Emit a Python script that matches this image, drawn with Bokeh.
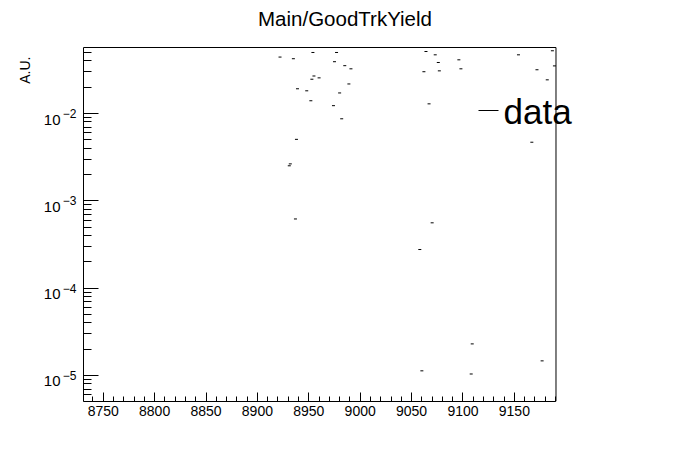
import math
from bokeh.plotting import figure
from bokeh.models import (Range1d, Label, Arrow, SingleIntervalTicker, LogTicker,
                          CustomJSTickFormatter, LogAxis, LogScale, BoxAnnotation, Title)
from bokeh.embed import file_html
from bokeh.resources import INLINE

# data: run number vs yield (A.U.)
runs = [8922, 8935, 8954, 8977, 8975, 8985, 8991, 8955, 8953, 8960,
        8989, 8939, 8948, 8980, 8952, 8974, 8982, 8938, 8932, 8931,
        8937, 9064, 9073, 9076, 9096, 9062, 9077, 9098, 9067, 9154,
        9187, 9189, 9172, 9182, 9167, 9070, 9058, 9109, 9060, 9108,
        9177]
yields = [0.0443, 0.0424, 0.050, 0.050, 0.0392, 0.0353, 0.0325, 0.0269, 0.0247, 0.0256,
          0.0218, 0.0192, 0.0182, 0.0172, 0.0140, 0.0123, 0.0087, 0.00506, 0.00265, 0.00252,
          0.00062, 0.0513, 0.0470, 0.0384, 0.0412, 0.0301, 0.0308, 0.0325, 0.0129, 0.0470,
          0.0523, 0.0351, 0.0317, 0.0243, 0.00469, 0.00056, 0.000277, 0.0000230, 0.0000113, 0.0000104,
          0.0000147]
title_text = "Main/GoodTrkYield"
ylabel_text = "A.U."
legend_text = "data"

FONT = "Liberation Sans"
X0, X1 = 8730.8, 9190.5          # visible axis extent
Y0, Y1 = 10 ** -5.298, 10 ** -1.244
PX_PER_DEC = 354 / (math.log10(Y1) - math.log10(Y0))
Y_TOP = 10 ** (math.log10(Y1) + 47 / PX_PER_DEC)   # drawing area reaches the canvas top
SHIFT = 10 ** (6 / PX_PER_DEC)   # "10" mantissa sits ~6px below its exponent

p = figure(width=680, height=456, output_backend="svg", toolbar_location=None,
           y_axis_type="log",
           x_range=Range1d(X0, 9233.8), y_range=Range1d(Y0, Y_TOP),
           extra_y_ranges={"ten": Range1d(Y0 * SHIFT, Y_TOP * SHIFT)},
           extra_y_scales={"ten": LogScale()},
           min_border_left=83, min_border_right=80, min_border_top=0, min_border_bottom=55)
p.title.visible = False
p.background_fill_color = "white"
p.border_fill_color = "white"
p.outline_line_color = None
p.xgrid.visible = False
p.ygrid.visible = False

p.xaxis.bounds = (X0, X1)
p.xaxis.ticker = SingleIntervalTicker(interval=50, num_minor_ticks=5)
p.xaxis.major_tick_in = 9
p.xaxis.major_tick_out = 0
p.xaxis.minor_tick_in = 5
p.xaxis.minor_tick_out = 0
p.xaxis.major_label_text_font = FONT
p.xaxis.major_label_text_font_size = "14px"
p.xaxis.major_label_text_color = "black"
p.xaxis.major_label_standoff = 4
p.xaxis.axis_line_color = "black"
p.xaxis.major_tick_line_color = "black"
p.xaxis.minor_tick_line_color = "black"

# main y axis: true ticks + exponent labels
p.yaxis.bounds = (Y0, Y1)
p.yaxis.ticker = LogTicker(num_minor_ticks=10)
p.yaxis.major_tick_in = 15
p.yaxis.major_tick_out = 0
p.yaxis.minor_tick_in = 8
p.yaxis.minor_tick_out = 0
p.yaxis.formatter = CustomJSTickFormatter(code="""
const e = Math.round(Math.log10(tick));
return (e < 0 ? "\u2212" : "") + String(Math.abs(e));
""")
p.yaxis.major_label_text_font = FONT
p.yaxis.major_label_text_font_size = "12px"
p.yaxis.major_label_text_color = "black"
p.yaxis.major_label_standoff = 7
p.yaxis.axis_line_color = "black"
p.yaxis.major_tick_line_color = "black"
p.yaxis.minor_tick_line_color = "black"

# mantissa "10" labels (outer, no ticks)
ten = LogAxis(y_range_name="ten", ticker=LogTicker(num_minor_ticks=10),
              bounds=(Y0 * SHIFT, Y1 * SHIFT),
              formatter=CustomJSTickFormatter(code="return '10';"),
              axis_line_color=None, major_tick_line_color=None, minor_tick_line_color=None,
              major_label_text_font=FONT, major_label_text_font_size="15px",
              major_label_text_color="black", major_label_standoff=-7)
p.add_layout(ten, "left")

# y axis title
p.add_layout(Title(text=ylabel_text, align="right", offset=56, standoff=16, text_font=FONT,
                   text_font_size="14px", text_font_style="normal", text_color="black"), "left")

# frame box (top and right edges)
p.add_layout(BoxAnnotation(left=X0, right=X1, bottom=Y0, top=Y1, fill_alpha=0,
                           line_color="black", line_width=1, line_alpha=1))

p.scatter(runs, yields, marker="dash", size=3, line_color="black", line_width=1)

# title
p.add_layout(Label(x=261.5, y=383, x_units="screen", y_units="screen", text=title_text,
                   text_font=FONT, text_font_size="20.5px", text_align="center",
                   text_baseline="middle", text_color="black"))

# legend
p.add_layout(Arrow(end=None, x_start=395, y_start=291, x_end=415, y_end=291,
                   start_units="screen", end_units="screen", line_color="black", line_width=1))
p.add_layout(Label(x=420, y=290, x_units="screen", y_units="screen", text=legend_text,
                   text_font=FONT, text_font_size="35px", text_align="left",
                   text_baseline="middle", text_color="black"))

open("out.html", "w").write(file_html(p, INLINE))
